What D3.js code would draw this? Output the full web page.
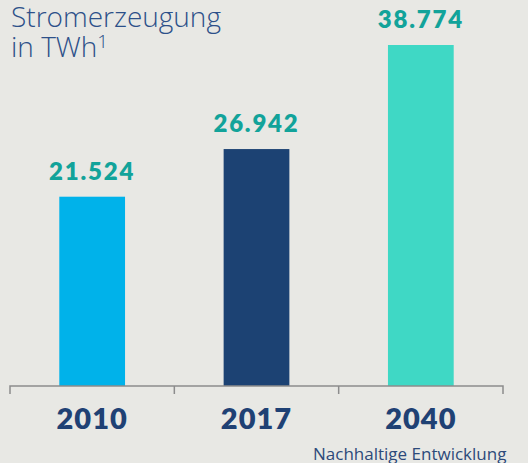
<!DOCTYPE html>
<html>
<head>
<meta charset="utf-8">
<script src="https://cdn.jsdelivr.net/npm/d3@7"></script>
<style>
  html, body { margin: 0; padding: 0; background: #e8e8e4; overflow: hidden; }
</style>
</head>
<body>
<div id="chart"></div>
<script>
// data
const years = ['2010', '2017', '2040'];
const values = [21524, 26942, 38774];
const valueLabels = ['21.524', '26.942', '38.774'];
const barColors = ['#00b2ea', '#1c4273', '#3fd8c5'];

const width = 528;
const height = 463;
const axisY = 386;
const fontFamily = 'Lato, "Open Sans", sans-serif';
const thinFont = '"Open Sans", Lato, sans-serif';
const navy = '#1f4174';
const teal = '#12a39a';

const svg = d3.select('#chart').append('svg')
    .attr('width', width)
    .attr('height', height);

const xScale = d3.scaleBand()
    .domain(years)
    .range([10, 503])
    .padding(0);

const yScale = d3.scaleLinear()
    .domain([0, 38774])
    .range([axisY, 45]);

const barWidth = xScale.bandwidth() * 0.4;

// title
svg.append('text')
    .attr('x', 11)
    .attr('y', 27)
    .style('font', `300 28px ${thinFont}`)
    .attr('fill', '#2d5089')
    .text('Stromerzeugung');

const t2 = svg.append('text')
    .attr('x', 11)
    .attr('y', 57)
    .style('font', `300 28px ${thinFont}`)
    .attr('fill', '#2d5089')
    .text('in TWh');
t2.append('tspan')
    .attr('dy', -9)
    .style('font-size', '19px')
    .text('1');

// bars
svg.selectAll('.bar')
    .data(years)
    .enter()
    .append('rect')
    .attr('class', 'bar')
    .attr('x', d => xScale(d) + (xScale.bandwidth() - barWidth) / 2)
    .attr('width', barWidth)
    .attr('y', (d, i) => yScale(values[i]))
    .attr('height', (d, i) => axisY - yScale(values[i]))
    .attr('fill', (d, i) => barColors[i]);

// value labels
svg.selectAll('.valueLabel')
    .data(years)
    .enter()
    .append('text')
    .attr('class', 'valueLabel')
    .attr('x', d => xScale(d) + xScale.bandwidth() / 2)
    .attr('y', (d, i) => yScale(values[i]) - 17)
    .attr('text-anchor', 'middle')
    .style('font', `800 24px ${fontFamily}`)
    .style('letter-spacing', '1.8px')
    .attr('fill', teal)
    .text((d, i) => valueLabels[i]);

// axis
const xAxis = svg.append('g')
    .attr('transform', `translate(0, ${axisY})`)
    .call(d3.axisBottom(xScale).tickSize(0).tickFormat(''));

xAxis.select('.domain')
    .attr('stroke', '#8c8c8c')
    .attr('stroke-width', 1.5)
    .attr('d', 'M10,8V0H503V8');

xAxis.selectAll('.tickmark')
    .data(years.slice(0, -1))
    .enter()
    .append('line')
    .attr('class', 'tickmark')
    .attr('x1', d => xScale(d) + xScale.bandwidth())
    .attr('x2', d => xScale(d) + xScale.bandwidth())
    .attr('y1', 0)
    .attr('y2', 8)
    .attr('stroke', '#8c8c8c')
    .attr('stroke-width', 1.5);

// year labels
svg.selectAll('.yearLabel')
    .data(years)
    .enter()
    .append('text')
    .attr('class', 'yearLabel')
    .attr('x', d => xScale(d) + xScale.bandwidth() / 2)
    .attr('y', 429)
    .attr('text-anchor', 'middle')
    .style('font', `800 29px ${fontFamily}`)
    .style('letter-spacing', '1px')
    .attr('fill', navy)
    .text(d => d);

// footnote
svg.append('text')
    .attr('x', 313)
    .attr('y', 460)
    .style('font', `400 17px ${thinFont}`)
    .attr('fill', '#2d4a7a')
    .text('Nachhaltige Entwicklung');
</script>
</body>
</html>
